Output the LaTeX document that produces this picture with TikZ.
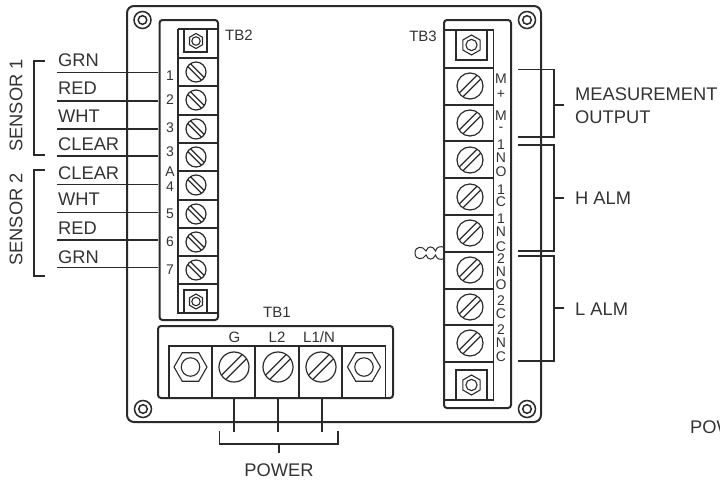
\documentclass[tikz,border=0pt]{standalone}
\usepackage{fontspec}
\setmainfont{Liberation Sans}
\definecolor{ink}{HTML}{2A2A2A}
\definecolor{txt}{HTML}{333333}
\newcommand{\bigf}{\fontsize{18.3}{20}\selectfont}
\newcommand{\midf}{\fontsize{15}{17}\selectfont}
\newcommand{\smf}{\fontsize{14}{16}\selectfont}
\tikzset{
  heavy/.style={draw=ink,line width=2pt},
  medium/.style={draw=ink,line width=1.7pt},
  wire/.style={draw=ink,line width=1.3pt},
  brk/.style={draw=ink,line width=1.3pt},
  biglab/.style={inner sep=0pt,text=txt,font=\bigf},
  midlab/.style={inner sep=0pt,text=txt,font=\midf},
  smlab/.style={inner sep=0pt,text=txt,font=\smf},
  pics/screw/.style={code={
    \draw[draw=ink,line width=1.2pt] (0,0) circle [radius=#1pt];
    \draw[draw=ink,line width=1.2pt] (-.98*#1,.2*#1) -- (.98*#1,.2*#1);
    \draw[draw=ink,line width=1.2pt] (-.98*#1,-.2*#1) -- (.98*#1,-.2*#1);
  }},
  pics/nut/.style={code={
    \draw[draw=ink,line width=1.1pt] (0:#1) -- (60:#1) -- (120:#1) -- (180:#1) -- (240:#1) -- (300:#1) -- cycle;
    \draw[draw=ink,line width=1.1pt] (0,0) circle [radius=.56*#1];
  }},
  pics/mount/.style={code={
    \draw[draw=ink,line width=1.5pt] (0,0) circle [radius=8.5pt];
    \draw[draw=ink,line width=1.5pt] (0,0) circle [radius=4.3pt];
  }}
}
\begin{document}
\begin{tikzpicture}[x=1pt,y=-1pt]
\useasboundingbox (0,0) rectangle (720,482);
% panel
\draw[heavy,rounded corners=7pt] (127,6) rectangle (541,422);
\foreach \x/\y in {142.5/20,143/409,527/20,527/409} \pic at (\x,\y) {mount};
% TB2
\draw[heavy,rounded corners=3pt] (159.5,20) rectangle (218,320);
\draw[medium] (178,29) -- (218,29);
\draw[medium] (178,29) -- (178,313) -- (217,313);
\foreach \y in {58,86,115,143,171,200,228,256,284} \draw[medium] (178,\y) -- (218,\y);
\draw[medium] (184,29.5) rectangle (207,52);
\draw[medium] (184,290) rectangle (207,313);
\pic[rotate=90] at (196,41) {nut=7.5};
\pic[rotate=90] at (196,301.5) {nut=7.5};
\foreach \y in {72,100,129,157,185,214,242,270} \pic[rotate=-45] at (196,\y) {screw=10};
\node[midlab,anchor=west] (tb2) at (225,35) {TB2};
\foreach \n/\t/\y in {a/1/76,b/2/100,c/3/128,d/3/152,e/A/172,f/4/187,g/5/214,h/6/242,i/7/270}
  \node[smlab] (p\n) at (170,\y) {\t};
% TB3
\draw[heavy,rounded corners=3pt] (444,20) rectangle (511,408);
\draw[medium] (444,30) -- (493.5,30) -- (493.5,400) -- (444,400);
\foreach \y in {68,104.5,141,178,215,252,288.5,325,362} \draw[heavy] (444,\y) -- (493.5,\y);
\draw[medium] (456,30) rectangle (487,60);
\draw[medium] (456,370) rectangle (487,400);
\pic[rotate=90] at (471.5,45) {nut=10};
\pic[rotate=90] at (471.5,385) {nut=10};
\foreach \y in {86,123,160,197,233,270,307,343} \pic[rotate=45] at (470,\y) {screw=13};
\node[midlab] (tb3) at (423,36) {TB3};
\foreach \n/\t/\y in {a/M/79,b/+/94,c/M/116,d/-/129,e/1/145,f/N/158,g/O/172,h/1/190,i/C/202,j/1/219,k/N/232,l/C/247,m/2/259,n/N/272,o/O/285,p/2/301,q/C/314,r/2/330,s/N/343,t/C/357}
  \node[smlab] (q\n) at (501,\y) {\t};
% TB1
\draw[heavy,rounded corners=3pt] (158,326) rectangle (393,398);
\draw[medium] (169,398) -- (169,346) -- (385.5,346) -- (385.5,398);
\foreach \x in {212,255,299,342} \draw[medium] (\x,346) -- (\x,398);
\pic at (190.5,367) {nut=16.5};
\pic at (364,367) {nut=16.5};
\foreach \x in {234,278,321} \pic[rotate=45] at (\x,367) {screw=15};
\node[midlab] (tb1) at (277,312) {TB1};
\node[midlab] (lg) at (234.5,337) {G};
\node[midlab] (ll2) at (277,337) {L2};
\node[midlab] (ll1) at (319,337) {L1/N};
% power wires
\foreach \n/\x in {1/234,2/278,3/322} {
  \coordinate (ps\n) at (\x,398);
  \coordinate (pe\n) at (\x,432);
  \draw[wire] (ps\n) -- (pe\n);
}
\coordinate (pbl) at (219.5,431);
\coordinate (pbr) at (338,431);
\coordinate (pst) at (279,444);
\coordinate (pse) at (279,453);
\draw[brk] (pbl) -- (219.5,444) -- (338,444) -- (pbr);
\draw[brk] (pst) -- (pse);
\node[biglab] (power) at (279,470) {POWER};
% sensor wires
\foreach \n/\t/\y/\ty in {1/GRN/72.7/60,2/RED/101/88,3/WHT/129/116,4/CLEAR/156/144,5/CLEAR/184.7/173,6/WHT/212.5/199,7/RED/240/228,8/GRN/267.7/257} {
  \coordinate (wl\n) at (57,\y);
  \coordinate (wr\n) at (158,\y);
  \draw[wire] (wl\n) -- (wr\n);
  \node[biglab,anchor=west] (wt\n) at (58,\ty) {\t};
}
\draw[brk] (45,61) -- (34,61) -- (34,155) -- (45,155);
\draw[brk] (45,170) -- (34,170) -- (34,276) -- (45,276);
\node[biglab,rotate=90] (s1) at (16,105.5) {SENSOR 1};
\node[biglab,rotate=90] (s2) at (16,219.5) {SENSOR 2};
% right brackets
\foreach \n/\a/\b/\m in {a/69.5/137/105,b/145/251/198,c/256/361/308} {
  \coordinate (bt\n) at (518,\a);
  \coordinate (bb\n) at (518,\b);
  \coordinate (bs\n) at (554,\m);
  \coordinate (be\n) at (564,\m);
  \draw[brk] (bt\n) -- (554,\a) -- (554,\b) -- (bb\n);
  \draw[brk] (bs\n) -- (be\n);
}
\node[biglab,anchor=west] (meas) at (575,94) {MEASUREMENT};
\node[biglab,anchor=west] (out) at (575,117) {OUTPUT};
\node[biglab,anchor=west] (halm) at (575,198) {H ALM};
\node[biglab,anchor=west] (lalm) at (575,309) {L ALM};
\node[biglab,anchor=west] (pow) at (690,427) {POW};
% jumper
\draw[draw=ink,line width=1pt] (444,247.5) .. controls (441,246) and (437,246) .. (435.5,251) .. controls (433,245.5) and (428,245.5) .. (426,251) .. controls (423,245.5) and (415,246) .. (415,253) .. controls (415,260) and (423,260.5) .. (426,255) .. controls (428,260.5) and (433,260.5) .. (435.5,255) .. controls (437,260) and (441,260) .. (444,258.5);
\end{tikzpicture}
\end{document}
